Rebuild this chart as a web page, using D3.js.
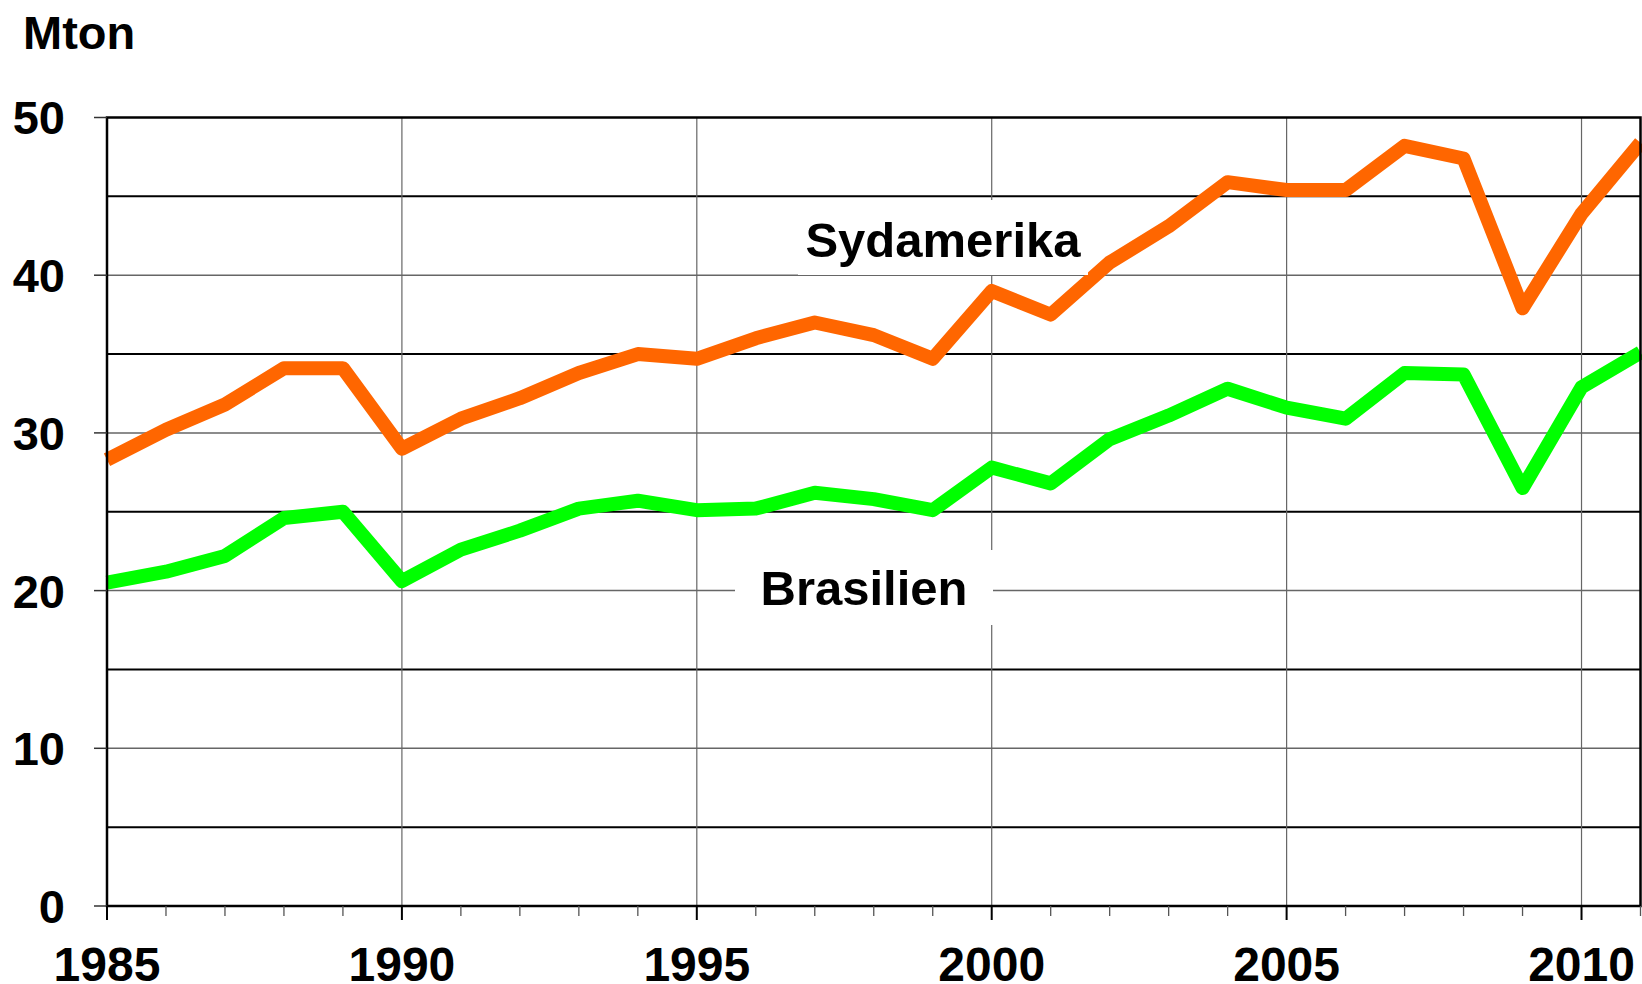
<!DOCTYPE html>
<html>
<head>
<meta charset="utf-8">
<script src="https://cdn.jsdelivr.net/npm/d3@7"></script>
<style>
  body { margin: 0; background: #fff; }
  svg { display: block; }
  text { font-family: "Liberation Sans", Arial, sans-serif; font-weight: bold; fill: #000; }
</style>
</head>
<body>
<div id="chart"></div>
<script>
// Data (Mton)
const years = d3.range(1985, 2012);
const sydamerika = [28.3, 30.2, 31.8, 34.1, 34.1, 29.0, 30.9, 32.2, 33.8, 35.0, 34.7, 36.0, 37.0, 36.2, 34.7,
                    39.0, 37.5, 40.8, 43.1, 45.9, 45.4, 45.4, 48.2, 47.4, 37.9, 43.9, 48.4];
const brasilien = [20.5, 21.2, 22.2, 24.6, 25.0, 20.6, 22.6, 23.8, 25.2, 25.7, 25.1, 25.2, 26.2, 25.8, 25.1,
                   27.8, 26.8, 29.6, 31.1, 32.8, 31.6, 30.9, 33.8, 33.7, 26.5, 32.9, 35.1];
const yTicks = [0, 10, 20, 30, 40, 50];
const yHalfTicks = [5, 15, 25, 35, 45];
const xLabelYears = [1985, 1990, 1995, 2000, 2005, 2010];

const width = 1642;
const height = 984;
const margin = { top: 117.5, right: 1.5, bottom: 78, left: 107 };

const svg = d3.select('#chart')
    .append('svg')
    .attr('width', width)
    .attr('height', height);

const x = d3.scaleLinear()
    .domain([1985, 2011])
    .range([margin.left, width - margin.right]);

const y = d3.scaleLinear()
    .domain([0, 50])
    .range([height - margin.bottom, margin.top]);

// horizontal grid - 10s thin gray, 5s black
svg.append('g')
    .selectAll('line')
    .data(yTicks.slice(1, -1))
    .enter()
    .append('line')
    .attr('x1', x(1985)).attr('x2', x(2011))
    .attr('y1', d => y(d)).attr('y2', d => y(d))
    .attr('stroke', '#666').attr('stroke-width', 1.5);

svg.append('g')
    .selectAll('line')
    .data(yHalfTicks)
    .enter()
    .append('line')
    .attr('x1', x(1985)).attr('x2', x(2011))
    .attr('y1', d => y(d)).attr('y2', d => y(d))
    .attr('stroke', '#000').attr('stroke-width', 2);

// vertical grid every 5 years
svg.append('g')
    .selectAll('line')
    .data(xLabelYears.slice(1))
    .enter()
    .append('line')
    .attr('x1', d => x(d)).attr('x2', d => x(d))
    .attr('y1', y(50)).attr('y2', y(0))
    .attr('stroke', '#666').attr('stroke-width', 1.2);

// data lines
const line = d3.line()
    .x((d, i) => x(years[i]))
    .y(d => y(d));

svg.append('path')
    .datum(sydamerika)
    .attr('d', line)
    .attr('fill', 'none')
    .attr('stroke', '#ff6600')
    .attr('stroke-width', 14)
    .attr('stroke-linejoin', 'round');

svg.append('path')
    .datum(brasilien)
    .attr('d', line)
    .attr('fill', 'none')
    .attr('stroke', '#00ff00')
    .attr('stroke-width', 14)
    .attr('stroke-linejoin', 'round');

// series labels on white boxes
const labels = [
    { text: 'Sydamerika', box: [798, 200, 290, 75], cx: 943, baseline: 257 },
    { text: 'Brasilien', box: [735, 550, 258, 75], cx: 864, baseline: 605 }
];
labels.forEach(l => {
    svg.append('rect')
        .attr('x', l.box[0]).attr('y', l.box[1])
        .attr('width', l.box[2]).attr('height', l.box[3])
        .attr('fill', '#fff');
    svg.append('text')
        .attr('x', l.cx).attr('y', l.baseline)
        .attr('text-anchor', 'middle')
        .style('font-size', '49px')
        .text(l.text);
});

// frame
svg.append('rect')
    .attr('x', x(1985)).attr('y', y(50))
    .attr('width', x(2011) - x(1985))
    .attr('height', y(0) - y(50))
    .attr('fill', 'none')
    .attr('stroke', '#000')
    .attr('stroke-width', 2.5);

// y axis ticks + labels
svg.append('g')
    .selectAll('line')
    .data(yTicks)
    .enter()
    .append('line')
    .attr('x1', x(1985) - 13).attr('x2', x(1985))
    .attr('y1', d => y(d)).attr('y2', d => y(d))
    .attr('stroke', '#333').attr('stroke-width', 1.5);

svg.append('g')
    .selectAll('text')
    .data(yTicks)
    .enter()
    .append('text')
    .attr('x', 65)
    .attr('y', d => y(d))
    .attr('dy', '0.36em')
    .attr('text-anchor', 'end')
    .style('font-size', '47px')
    .text(d => d);

// x axis ticks
svg.append('g')
    .selectAll('line')
    .data(years)
    .enter()
    .append('line')
    .attr('x1', d => x(d)).attr('x2', d => x(d))
    .attr('y1', y(0))
    .attr('y2', d => y(0) + (d % 5 === 0 ? 14 : 10))
    .attr('stroke', d => d % 5 === 0 ? '#000' : '#555')
    .attr('stroke-width', d => d % 5 === 0 ? 2 : 1.3);

svg.append('g')
    .selectAll('text')
    .data(xLabelYears)
    .enter()
    .append('text')
    .attr('x', d => x(d))
    .attr('y', 981)
    .attr('text-anchor', 'middle')
    .style('font-size', '48px')
    .text(d => d);

// unit
svg.append('text')
    .attr('x', 23).attr('y', 49)
    .style('font-size', '47px')
    .text('Mton');
</script>
</body>
</html>
